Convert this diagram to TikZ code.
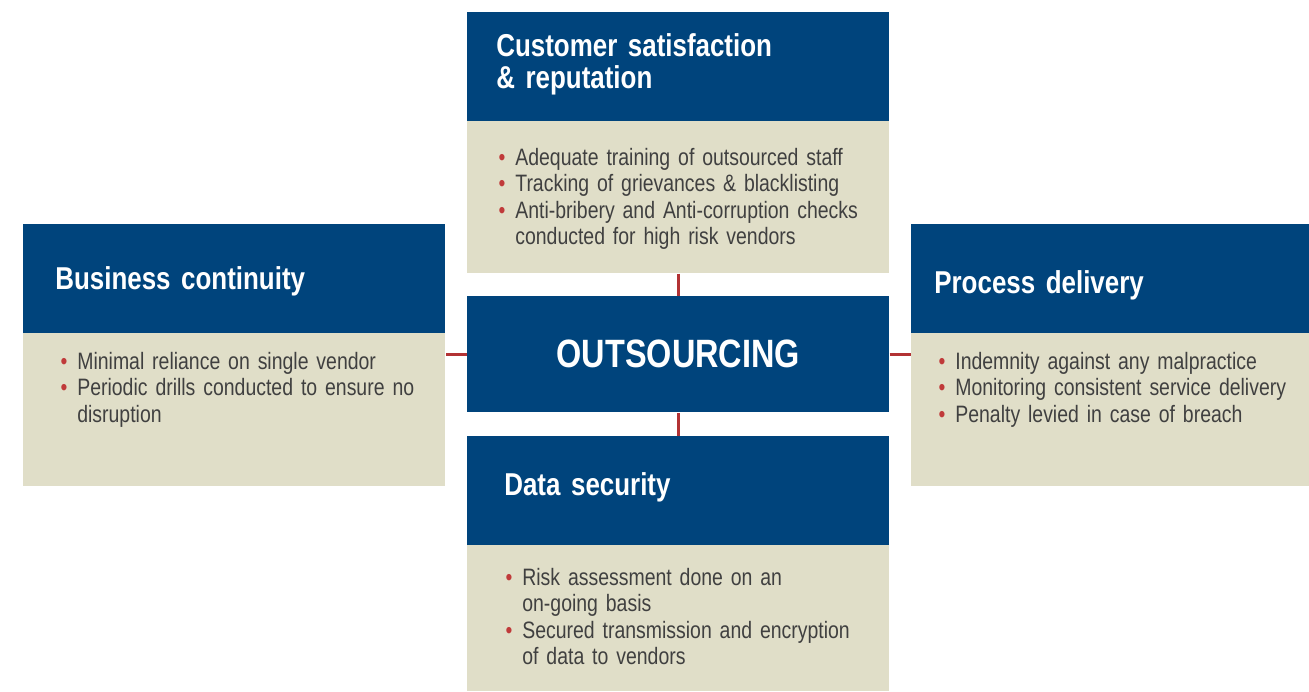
\documentclass[tikz,border=0pt]{standalone}
\usepackage{fontspec}
\setmainfont{Liberation Sans}[FakeStretch=0.82]
\usepackage{xcolor}
\usetikzlibrary{positioning}
\definecolor{hdrblue}{RGB}{0,68,124}
\definecolor{bodybeige}{RGB}{224,222,200}
\definecolor{linkred}{RGB}{178,50,52}
\definecolor{bulletred}{RGB}{192,58,58}
\definecolor{bodygray}{RGB}{64,64,64}
\newcommand{\itm}{\leavevmode\llap{\textcolor{bulletred}{\textbullet}\hspace{0.2cm}}}
\newcommand{\tightsp}{\spaceskip=0.2em plus 0.05em\relax}
\tikzset{
  hdrbox/.style ={fill=hdrblue, anchor=north west, inner sep=0pt, minimum width=8.44cm, minimum height=2.18cm},
  bodybox/.style={fill=bodybeige, anchor=north west, inner sep=0pt, minimum width=8.44cm},
  hdrtxt/.style ={text=white, anchor=base west, inner sep=0pt, align=left, text width=7cm, font=\fontsize{18}{18.7}\selectfont\bfseries\tightsp},
  bodytxt/.style={text=bodygray, anchor=base west, inner sep=0pt, align=left, text width=7.6cm, font=\fontsize{13.5}{15.1}\selectfont\tightsp},
  link/.style   ={draw=linkred, line width=1.8pt},
}
\begin{document}
\begin{tikzpicture}[x=0.02cm, y=-0.02cm]
  \useasboundingbox (0,0) rectangle (1309,691);
  % panels
  \node[hdrbox]  (cs-head) at (467,12)  {};
  \node[bodybox, minimum height=3.04cm] (cs-body) at (467,121) {};
  \node[hdrbox]  (bc-head) at (23,224)  {};
  \node[bodybox, minimum height=3.06cm] (bc-body) at (23,333)  {};
  \node[hdrbox, minimum width=7.96cm]   (pd-head) at (911,224) {};
  \node[bodybox, minimum height=3.06cm, minimum width=7.96cm] (pd-body) at (911,333) {};
  \node[hdrbox]  (ds-head) at (467,436) {};
  \node[bodybox, minimum height=2.92cm] (ds-body) at (467,545) {};
  \node[hdrbox, minimum height=2.32cm, text=white, font=\fontsize{22.5}{24}\selectfont\bfseries]
    (core) at (467,296) {OUTSOURCING};
  % headings
  \node[hdrtxt] (cs-title) at (496,56)  {Customer satisfaction\\\& reputation};
  \node[hdrtxt] (bc-title) at (55,289)  {Business continuity};
  \node[hdrtxt] (pd-title) at (934,293) {Process delivery};
  \node[hdrtxt] (ds-title) at (504,495) {Data security};
  % bullet lists
  \node[bodytxt] (cs-list) at (515,165)
    {\itm Adequate training of outsourced staff\\
     \itm Tracking of grievances \& blacklisting\\
     \itm Anti-bribery and Anti-corruption checks\\
     conducted for high risk vendors};
  \node[bodytxt] (bc-list) at (77,369)
    {\itm Minimal reliance on single vendor\\
     \itm Periodic drills conducted to ensure no\\
     disruption};
  \node[bodytxt] (pd-list) at (955,369)
    {\itm Indemnity against any malpractice\\
     \itm Monitoring consistent service delivery\\
     \itm Penalty levied in case of breach};
  \node[bodytxt] (ds-list) at (522,585)
    {\itm Risk assessment done on an\\
     on-going basis\\
     \itm Secured transmission and encryption\\
     of data to vendors};
  % links to the core
  \draw[link] (cs-body.south) -- (core.north);
  \draw[link] (ds-head.north) -- (core.south);
  \draw[link] (core.west) -- (core.west -| bc-body.east);
  \draw[link] (core.east) -- (core.east -| pd-body.west);
\end{tikzpicture}
\end{document}
